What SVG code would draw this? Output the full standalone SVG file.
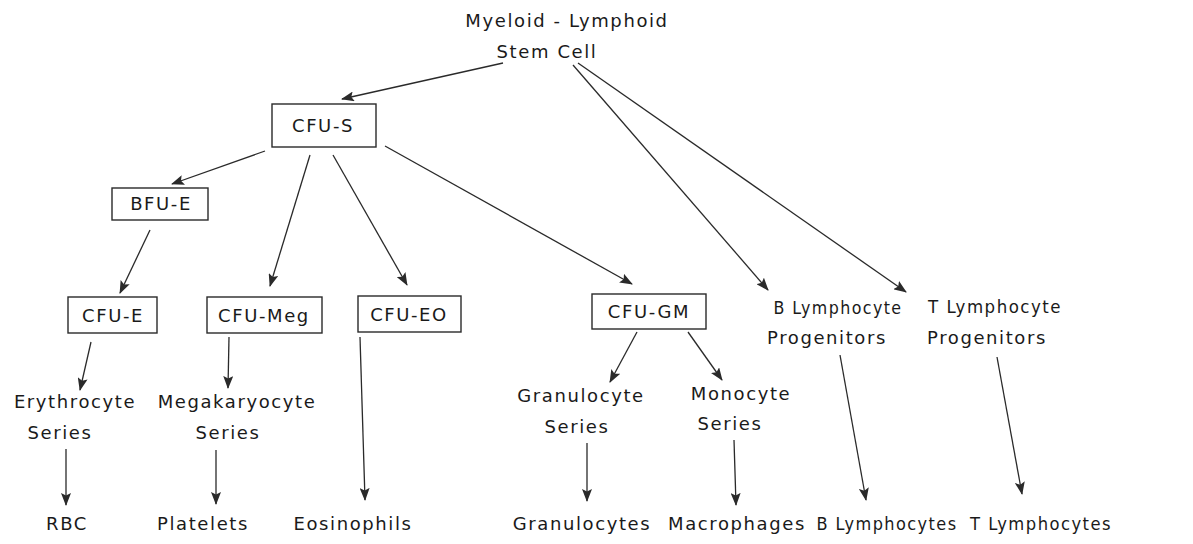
<svg xmlns="http://www.w3.org/2000/svg" width="1193" height="544" viewBox="0 0 1193 544">
<defs>
<marker id="ah" markerUnits="userSpaceOnUse" markerWidth="13" markerHeight="10" refX="12" refY="5" orient="auto">
<path d="M0,0 L13,5 L0,10 L2.5,5 z" fill="#2a2a2a"/>
</marker>
</defs>
<style>
text{font-family:"DejaVu Sans","Liberation Sans",sans-serif;font-size:18px;fill:#1a1a1a;text-anchor:middle;letter-spacing:1.6px}
.box{fill:#fff;stroke:#2a2a2a;stroke-width:1.4}
.c line{stroke:#2a2a2a;stroke-width:1.3;marker-end:url(#ah)}
</style>
<rect width="1193" height="544" fill="#fff"/>
<g class="c" id="connectors">
<line x1="503" y1="63" x2="342" y2="99"/>
<line x1="573" y1="65" x2="768" y2="290"/>
<line x1="578" y1="63" x2="906" y2="292"/>
<line x1="265" y1="151" x2="172" y2="184"/>
<line x1="310" y1="155" x2="270" y2="286"/>
<line x1="333" y1="155" x2="407" y2="285"/>
<line x1="385" y1="146" x2="632" y2="284"/>
<line x1="150" y1="230" x2="120" y2="293"/>
<line x1="91" y1="342" x2="80" y2="390"/>
<line x1="229" y1="337" x2="228" y2="388"/>
<line x1="360" y1="337" x2="365" y2="500"/>
<line x1="637" y1="332" x2="610" y2="382"/>
<line x1="688" y1="332" x2="722" y2="380"/>
<line x1="66" y1="449" x2="66" y2="505"/>
<line x1="216" y1="450" x2="216" y2="504"/>
<line x1="587" y1="443" x2="587" y2="501"/>
<line x1="734" y1="440" x2="736" y2="505"/>
<line x1="840" y1="355" x2="866" y2="500"/>
<line x1="997" y1="357" x2="1022" y2="494"/>
</g>
<g id="stem"><text x="567" y="27">Myeloid - Lymphoid</text><text x="547" y="58">Stem  Cell</text></g>
<g id="cfu-s"><rect class="box" x="272" y="104" width="104" height="43"/><text x="323" y="132">CFU-S</text></g>
<g id="bfu-e"><rect class="box" x="112" y="188" width="96" height="32"/><text x="161" y="210">BFU-E</text></g>
<g id="cfu-e"><rect class="box" x="68" y="297" width="89" height="36"/><text x="113" y="322">CFU-E</text></g>
<g id="cfu-meg"><rect class="box" x="207" y="297" width="115" height="36"/><text x="264" y="322">CFU-Meg</text></g>
<g id="cfu-eo"><rect class="box" x="358" y="296" width="103" height="36"/><text x="409" y="321">CFU-EO</text></g>
<g id="cfu-gm"><rect class="box" x="592" y="294" width="114" height="35"/><text x="649" y="318">CFU-GM</text></g>
<g id="b-prog"><text x="838" y="314" textLength="129" lengthAdjust="spacingAndGlyphs">B Lymphocyte</text><text x="827" y="344">Progenitors</text></g>
<g id="t-prog"><text x="995" y="313" textLength="134" lengthAdjust="spacingAndGlyphs">T Lymphocyte</text><text x="987" y="344">Progenitors</text></g>
<g id="ery"><text x="75" y="408">Erythrocyte</text><text x="60" y="439">Series</text></g>
<g id="mega"><text x="237" y="408">Megakaryocyte</text><text x="228" y="439">Series</text></g>
<g id="gran"><text x="581" y="402">Granulocyte</text><text x="577" y="433">Series</text></g>
<g id="mono"><text x="741" y="400">Monocyte</text><text x="730" y="430">Series</text></g>
<g id="rbc"><text x="67" y="530">RBC</text></g>
<g id="platelets"><text x="203" y="530">Platelets</text></g>
<g id="eos"><text x="353" y="530">Eosinophils</text></g>
<g id="granulocytes"><text x="582" y="530">Granulocytes</text></g>
<g id="macro"><text x="737" y="530">Macrophages</text></g>
<g id="blym"><text x="887" y="530" textLength="141" lengthAdjust="spacingAndGlyphs">B Lymphocytes</text></g>
<g id="tlym"><text x="1041" y="530" textLength="142" lengthAdjust="spacingAndGlyphs">T Lymphocytes</text></g>
</svg>
